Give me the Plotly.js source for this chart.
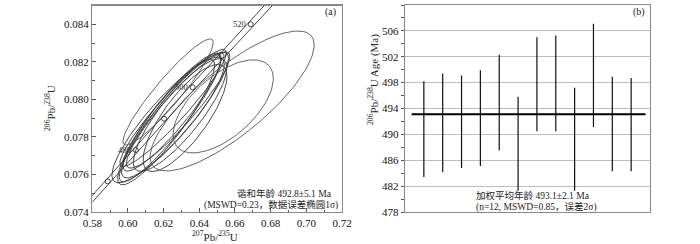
<!DOCTYPE html>
<html>
<head>
<meta charset="utf-8">
<script src="https://cdn.plot.ly/plotly-3.0.1.min.js"></script>
<style>html,body{margin:0;padding:0;background:#fff;}#chart{width:700px;height:244px;}</style>
</head>
<body>
<div id="chart"></div>
<script>
// ---- Panel (a): concordia ----
const concAges   = [460, 470, 480, 490, 500, 510, 520, 530];
const concX      = [0.57307, 0.58864, 0.60436, 0.62024, 0.63628, 0.65247, 0.66883, 0.68534];
const concY      = [0.073965, 0.075632, 0.077302, 0.078975, 0.080649, 0.082327, 0.084008, 0.085690];
const bandLeftX  = [0.57147, 0.58694, 0.60256, 0.61834, 0.63428, 0.65037, 0.66663, 0.68304];
const bandRightX = [0.57467, 0.59034, 0.60616, 0.62214, 0.63828, 0.65457, 0.67103, 0.68764];
const markerAges = [470, 480, 490, 500, 510, 520];
const labelAges  = [480, 500, 520];
const labelText  = ['480', '500', '520'];

// ellipse centres, half extents (x, y) and correlation
const ellCx  = [0.6264, 0.6236, 0.6247, 0.6225, 0.6281, 0.6214, 0.6292, 0.6253, 0.6320, 0.6584, 0.6534, 0.6225];
const ellCy  = [0.07917, 0.07901, 0.07933, 0.07891, 0.07944, 0.07880, 0.07917, 0.07955, 0.07901, 0.07992, 0.07963, 0.08040];
const ellSx  = [0.0300, 0.0285, 0.0275, 0.0315, 0.0290, 0.0272, 0.0262, 0.0298, 0.0235, 0.0460, 0.0281, 0.0253];
const ellSy  = [0.00335, 0.00340, 0.00315, 0.00335, 0.00310, 0.00335, 0.00300, 0.00312, 0.00285, 0.00373, 0.00248, 0.00283];
const ellRho = [0.90, 0.92, 0.91, 0.88, 0.92, 0.90, 0.84, 0.94, 0.78, 0.80, 0.60, 0.93];

// ---- Panel (b): weighted mean ----
const spotNo  = [1, 2, 3, 4, 5, 6, 7, 8, 9, 10, 11, 12];
const spotAge = [490.8, 491.8, 491.95, 492.5, 494.9, 488.55, 497.75, 497.9, 489.25, 499.1, 491.6, 491.5];
const spotErr = [7.4, 7.6, 7.15, 7.4, 7.4, 7.25, 7.25, 7.4, 7.95, 8.0, 7.3, 7.2];
const meanAge = 493.1;

const serif = 'Liberation Serif, Times New Roman, Noto Sans CJK SC, serif';
const traces = [];

// ellipses
for (let i = 0; i < ellCx.length; i++) {
  const xs = [], ys = [];
  const r = ellRho[i], q = Math.sqrt(1 - r * r);
  for (let k = 0; k <= 120; k++) {
    const t = 2 * Math.PI * k / 120;
    xs.push(ellCx[i] + ellSx[i] * Math.cos(t));
    ys.push(ellCy[i] + ellSy[i] * (r * Math.cos(t) + q * Math.sin(t)));
  }
  traces.push({x: xs, y: ys, xaxis: 'x', yaxis: 'y', mode: 'lines', type: 'scatter',
    line: {color: i < 9 ? '#333' : '#555', width: 0.9}, hoverinfo: 'skip', showlegend: false});
}
// concordia band
traces.push({x: bandLeftX, y: concY, xaxis: 'x', yaxis: 'y', mode: 'lines', type: 'scatter',
  line: {color: '#333', width: 0.9}, showlegend: false, hoverinfo: 'skip'});
traces.push({x: bandRightX, y: concY, xaxis: 'x', yaxis: 'y', mode: 'lines', type: 'scatter',
  line: {color: '#333', width: 0.9}, showlegend: false, hoverinfo: 'skip'});
// age markers
const mIdx = markerAges.map(a => concAges.indexOf(a));
traces.push({x: mIdx.map(i => concX[i]), y: mIdx.map(i => concY[i]), xaxis: 'x', yaxis: 'y',
  mode: 'markers', type: 'scatter',
  marker: {symbol: 'circle-open', size: 5, color: '#333', line: {width: 0.9}}, showlegend: false});

// panel b bars
traces.push({x: spotNo, y: spotAge, xaxis: 'x2', yaxis: 'y2', mode: 'none', type: 'scatter',
  error_y: {type: 'data', array: spotErr, visible: true, width: 0, thickness: 1.2, color: '#111'},
  showlegend: false});

const axisCommon = {showgrid: false, zeroline: false, linecolor: '#888', linewidth: 1.3, mirror: true,
  tickfont: {family: serif, size: 11, color: '#111'}, tickcolor: '#555', automargin: false};

const ageLabelAnns = labelAges.map((a, j) => {
  const i = concAges.indexOf(a);
  return {text: labelText[j], xref: 'x', yref: 'y', x: concX[i], y: concY[i], xanchor: 'right', yanchor: 'middle',
    xshift: -3, showarrow: false, font: {family: serif, size: 8.5, color: '#333'}};
});

const layout = {
  width: 700, height: 244,
  margin: {l: 0, r: 0, t: 0, b: 0},
  paper_bgcolor: '#fff', plot_bgcolor: '#fff',
  showlegend: false,
  xaxis: Object.assign({}, axisCommon, {domain: [92.3/700, 342/700], range: [0.58, 0.72], dtick: 0.02, tick0: 0.58,
    tickformat: '.2f', ticks: 'inside', ticklen: 4, anchor: 'y',
    minor: {ticks: 'inside', dtick: 0.01, ticklen: 2.5, tickcolor: '#555'}}),
  yaxis: Object.assign({}, axisCommon, {domain: [32/244, 238.3/244], range: [0.074, 0.085], dtick: 0.002, tick0: 0.074,
    tickformat: '.3f', ticks: 'inside', ticklen: 4, anchor: 'x',
    minor: {ticks: 'inside', dtick: 0.001, ticklen: 2.5, tickcolor: '#555'}}),
  xaxis2: Object.assign({}, axisCommon, {domain: [405/700, 650/700], range: [0, 13], showticklabels: false,
    ticks: '', anchor: 'y2'}),
  yaxis2: Object.assign({}, axisCommon, {domain: [32/244, 239/244], range: [478, 510], dtick: 4, tick0: 478,
    ticks: 'outside', ticklen: 3, anchor: 'x2', showgrid: true, gridcolor: '#bdbdbd', gridwidth: 1,
    minor: {ticks: 'outside', dtick: 2, ticklen: 2.5, tickcolor: '#555', showgrid: false}}),
  shapes: [
    {type: 'line', xref: 'x2 domain', yref: 'y2', x0: 0.027, x1: 0.982, y0: meanAge, y1: meanAge,
     line: {color: '#000', width: 2}}
  ],
  annotations: ageLabelAnns.concat([
    {text: '(a)', xref: 'paper', yref: 'paper', x: 338/700, y: 1 - 12/244, xanchor: 'right', yanchor: 'middle',
     showarrow: false, font: {family: serif, size: 10, color: '#222'}},
    {text: '(b)', xref: 'paper', yref: 'paper', x: 647/700, y: 1 - 12/244, xanchor: 'right', yanchor: 'middle',
     showarrow: false, font: {family: serif, size: 10, color: '#222'}},
    {text: '谐和年龄 492.8±5.1 Ma', xref: 'paper', yref: 'paper', x: 334/700, y: 1 - 193/244, xanchor: 'right', yanchor: 'middle',
     showarrow: false, font: {family: serif, size: 9.5, color: '#222'}},
    {text: '(MSWD=0.23，数据误差椭圆1σ)', xref: 'paper', yref: 'paper', x: 340/700, y: 1 - 205/244, xanchor: 'right', yanchor: 'middle',
     showarrow: false, font: {family: serif, size: 9.5, color: '#222'}},
    {text: '<sup>207</sup>Pb/<sup>235</sup>U', xref: 'paper', yref: 'paper', x: 215/700, y: 1 - 236/244, xanchor: 'center', yanchor: 'middle',
     showarrow: false, font: {family: serif, size: 11, color: '#222'}},
    {text: '<sup>206</sup>Pb/<sup>238</sup>U', xref: 'paper', yref: 'paper', x: 50/700, y: 1 - 108/244, xanchor: 'center', yanchor: 'middle',
     textangle: -90, showarrow: false, font: {family: serif, size: 11, color: '#222'}},
    {text: '<sup>206</sup>Pb/<sup>238</sup>U Age (Ma)', xref: 'paper', yref: 'paper', x: 374/700, y: 1 - 80/244, xanchor: 'center', yanchor: 'middle',
     textangle: -90, showarrow: false, font: {family: serif, size: 11, color: '#222'}},
    {text: '加权平均年龄 493.1±2.1 Ma', xref: 'paper', yref: 'paper', x: 533/700, y: 1 - 195/244, xanchor: 'center', yanchor: 'middle',
     showarrow: false, font: {family: serif, size: 9.5, color: '#222'}},
    {text: '(n=12, MSWD=0.85，误差2σ)', xref: 'paper', yref: 'paper', x: 536/700, y: 1 - 207/244, xanchor: 'center', yanchor: 'middle',
     showarrow: false, font: {family: serif, size: 9.5, color: '#222'}}
  ])
};

Plotly.newPlot('chart', traces, layout, {staticPlot: true, displayModeBar: false});
</script>
</body>
</html>
